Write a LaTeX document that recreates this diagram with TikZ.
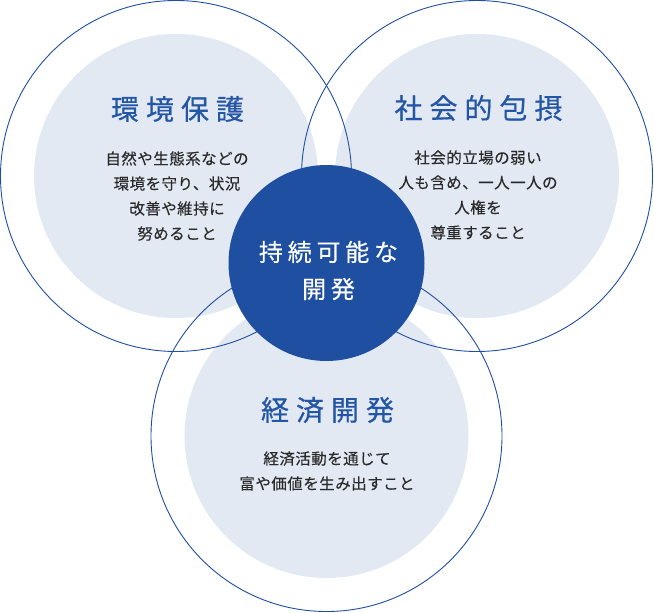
\documentclass[tikz,border=0pt]{standalone}
\usepackage{fontspec}
\newfontfamily\jpbody[LetterSpace=3,FakeBold=0.15]{Noto Sans CJK JP}
\newfontfamily\jptitle[LetterSpace=25,FakeBold=0.6]{Noto Sans CJK JP}
\newfontfamily\jpcenter[LetterSpace=20,FakeBold=0.3]{Noto Sans CJK JP}
\definecolor{dblue}{HTML}{1F4FA0}
\definecolor{lblue}{HTML}{E3E9F3}
\definecolor{tblue}{HTML}{2456A6}
\definecolor{bodyc}{HTML}{2A2A2A}
\begin{document}
\begin{tikzpicture}[x=1pt,y=-1pt,
  inner/.style={fill=lblue,draw=none},
  outer/.style={draw=dblue,line width=0.9pt,fill=none},
  core/.style={fill=dblue,draw=none},
  ttl/.style={font=\jptitle\fontsize{28}{30}\selectfont,text=tblue,inner sep=0pt},
  bdy/.style={font=\jpbody\fontsize{15.5}{25}\selectfont,text=bodyc,align=center,inner sep=0pt},
  ctr/.style={font=\jpcenter\fontsize{24}{37}\selectfont,text=white,align=center,inner sep=0pt}]
\useasboundingbox (0,0) rectangle (654,613);
\coordinate (L) at (176,176);
\coordinate (R) at (477,176);
\coordinate (B) at (326.5,436);
\coordinate (C) at (326.5,263);
% inner fills
\fill[inner] (L) circle[radius=142];
\fill[inner] (R) circle[radius=142];
\fill[inner] (B) circle[radius=142];
% outer rings
\draw[outer] (L) circle[radius=175.5];
\draw[outer] (R) circle[radius=175.5];
\draw[outer] (B) circle[radius=175.5];
% core
\fill[core] (C) circle[radius=98];
% titles
\node[ttl] (t1) at (177.5,109) {環境保護};
\node[ttl] (t2) at (478.5,108) {社会的包摂};
\node[ttl] (t3) at (327.5,410) {経済開発};
% bodies
\node[bdy] (b1) at (177,196) {自然や生態系などの\\環境を守り、状況\\改善や維持に\\努めること};
\node[bdy] (b2) at (478,195) {社会的立場の弱い\\人も含め、一人一人の\\人権を\\尊重すること};
\node[bdy] (b3) at (327,471) {経済活動を通じて\\富や価値を生み出すこと};
% center
\node[ctr] (c) at (328.5,270.5) {持続可能な\\開発};
\end{tikzpicture}
\end{document}
